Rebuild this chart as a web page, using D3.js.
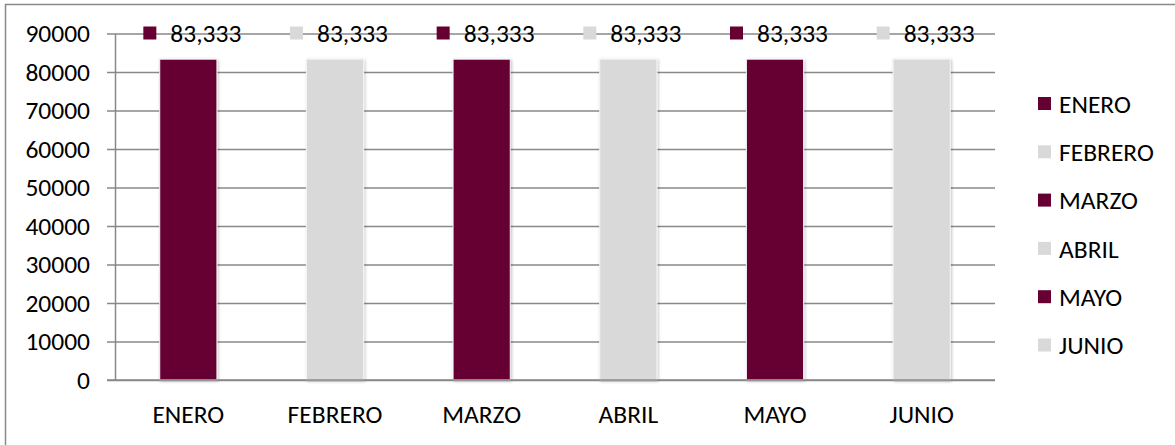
<!DOCTYPE html>
<html>
<head>
<meta charset="utf-8">
<script src="https://cdn.jsdelivr.net/npm/d3@7"></script>
<style>
  html, body { margin: 0; padding: 0; background: #fff; }
  svg { display: block; font-family: Carlito, Calibri, Lato, sans-serif; }
</style>
</head>
<body>
<svg id="chart" width="1175" height="445"></svg>
<script>
// Monthly values
const months = ["ENERO", "FEBRERO", "MARZO", "ABRIL", "MAYO", "JUNIO"];
const values = [83333, 83333, 83333, 83333, 83333, 83333];
const barColors = ["#660033", "#d9d9d9", "#660033", "#d9d9d9", "#660033", "#d9d9d9"];
const yTicks = [0, 10000, 20000, 30000, 40000, 50000, 60000, 70000, 80000, 90000];

const svg = d3.select("#chart");
const fontSize = 25.5;
const fontFamily = "Carlito, Calibri, Lato, sans-serif";
const gridColor = "#898989";

// Chart frame
svg.append("rect")
  .attr("x", 5.5).attr("y", 4.5)
  .attr("width", 1200).attr("height", 460)
  .attr("fill", "#fff")
  .attr("stroke", gridColor).attr("stroke-width", 1.5);

const plot = { left: 115, right: 995, top: 33.5, bottom: 380 };

const x = d3.scaleBand()
  .domain(months)
  .range([plot.left, plot.right])
  .paddingInner(0.61)
  .paddingOuter(0.305);

const y = d3.scaleLinear()
  .domain([0, 90000])
  .range([plot.bottom, plot.top]);

// Soft shadow under the bars
const defs = svg.append("defs");
const f = defs.append("filter").attr("id", "barShadow")
  .attr("x", "-20%").attr("y", "-5%").attr("width", "140%").attr("height", "110%");
f.append("feDropShadow")
  .attr("dx", 1).attr("dy", 1).attr("stdDeviation", 1.5)
  .attr("flood-color", "#000").attr("flood-opacity", 0.25);

// Y axis with gridlines
const yAxis = d3.axisLeft(y)
  .tickValues(yTicks)
  .tickSize(-(plot.right - plot.left))
  .tickSizeOuter(0)
  .tickPadding(25)
  .tickFormat(d3.format("d"));

const gy = svg.append("g")
  .attr("transform", `translate(${plot.left},0)`)
  .call(yAxis);
gy.select(".domain").attr("stroke", gridColor).attr("stroke-width", 1.5);
gy.selectAll(".tick line")
  .attr("x1", -8)
  .attr("stroke", gridColor).attr("stroke-width", 1.5);
gy.selectAll(".tick text")
  .attr("fill", "#000")
  .style("font-size", fontSize + "px")
  .style("font-family", fontFamily);

// Bars
svg.append("g").selectAll("rect")
  .data(months)
  .join("rect")
  .attr("x", d => x(d))
  .attr("y", (d, i) => y(values[i]))
  .attr("width", x.bandwidth())
  .attr("height", (d, i) => y(0) - y(values[i]))
  .attr("fill", (d, i) => barColors[i])
  .attr("stroke", "#f4f4f4").attr("stroke-width", 1)
  .attr("filter", "url(#barShadow)");

// X axis labels
const xAxis = d3.axisBottom(x).tickSize(0).tickPadding(25);
const gx = svg.append("g")
  .attr("transform", `translate(0,${plot.bottom})`)
  .call(xAxis);
gx.select(".domain")
  .attr("d", `M${plot.left - 8},0H${plot.right}`)
  .attr("stroke", gridColor).attr("stroke-width", 1.5);
gx.selectAll(".tick text")
  .attr("fill", "#000")
  .style("font-size", fontSize + "px")
  .style("font-family", fontFamily);

// Data labels with legend keys
const labelFmt = d3.format(",");
const labels = svg.append("g").selectAll("g")
  .data(months)
  .join("g")
  .attr("transform", d => `translate(${x(d) + x.bandwidth() / 2},${plot.top})`);
labels.append("rect")
  .attr("x", -45).attr("y", -7)
  .attr("width", 13).attr("height", 13)
  .attr("fill", (d, i) => barColors[i]);
labels.append("text")
  .attr("x", -18).attr("y", 0)
  .attr("dy", "0.32em")
  .style("font-size", fontSize + "px")
  .text((d, i) => labelFmt(values[i]));

// Legend
const legend = svg.append("g").selectAll("g")
  .data(months)
  .join("g")
  .attr("transform", (d, i) => `translate(1038,${104 + i * 48.3})`);
legend.append("rect")
  .attr("x", 0).attr("y", -7)
  .attr("width", 13).attr("height", 13)
  .attr("fill", (d, i) => barColors[i]);
legend.append("text")
  .attr("x", 21).attr("y", 0)
  .attr("dy", "0.34em")
  .style("font-size", fontSize + "px")
  .text(d => d);
</script>
</body>
</html>
